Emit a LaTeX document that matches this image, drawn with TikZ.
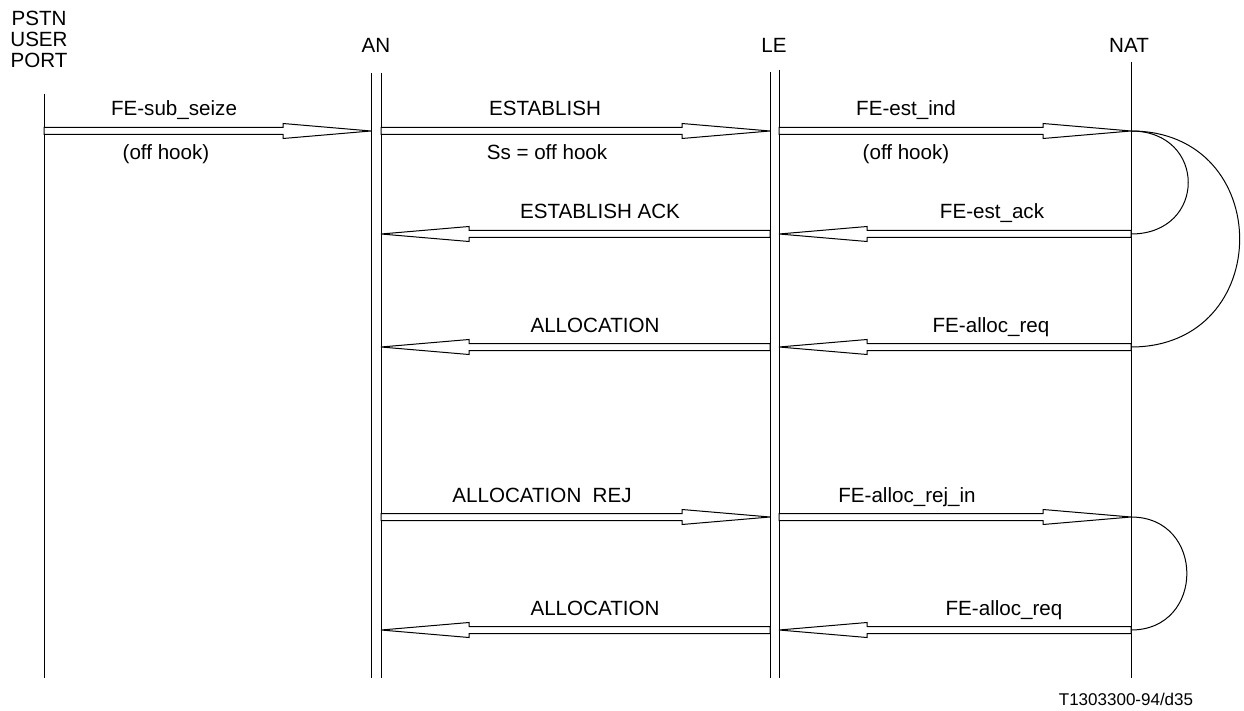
\documentclass[tikz,border=0pt]{standalone}
\usepackage{fontspec}
\setmainfont{Liberation Sans}
\usetikzlibrary{calc}

\begin{document}
\begin{tikzpicture}[
    x=1pt, y=-1pt,
    every node/.style={font=\fontsize{20.6}{21}\selectfont, inner sep=0pt},
    lifeline/.style={line width=1pt},
    msg/.style={draw, fill=white, line width=1pt, to path={
        let \p1=(\tikztostart), \p2=(\tikztotarget), \n1={sign(\x2-\x1)} in
        (\x1,{\y1+3.5pt}) -- ({\x2-\n1*88pt},{\y1+3.5pt}) -- ({\x2-\n1*88pt},{\y1+7.5pt})
        -- (\x2,\y2) -- ({\x2-\n1*88pt},{\y1-7.5pt}) -- ({\x2-\n1*88pt},{\y1-3.5pt})
        -- (\x1,{\y1-3.5pt}) -- cycle}},
    lbl/.style={anchor=base},
    turn/.style={line width=1pt, out=0, in=0, looseness=#1},
  ]
  \useasboundingbox (0,0) rectangle (1244,711);

  % ---- Headers ----
  \node[align=center, anchor=north] (pu) at (39,11) {PSTN\\USER\\PORT};
  \node[lbl] (an) at (376,53) {AN};
  \node[lbl] (le) at (774,53) {LE};
  \node[lbl] (nat) at (1129,53) {NAT};

  % ---- Lifelines ----
  \coordinate (puTop) at (44,94);    \coordinate (puBot) at (44,678);
  \coordinate (anLTop) at (371,73);  \coordinate (anLBot) at (371,678);
  \coordinate (anRTop) at (381,73);  \coordinate (anRBot) at (381,678);
  \coordinate (leLTop) at (770,72);  \coordinate (leLBot) at (770,678);
  \coordinate (leRTop) at (779,70);  \coordinate (leRBot) at (779,678);
  \coordinate (natTop) at (1131,62); \coordinate (natBot) at (1131,678);

  \draw[lifeline] (puTop) -- (puBot);
  \draw[lifeline] (anLTop) -- (anLBot);
  \draw[lifeline] (anRTop) -- (anRBot);
  \draw[lifeline] (leLTop) -- (leLBot);
  \draw[lifeline] (leRTop) -- (leRBot);
  \draw[lifeline] (natTop) -- (natBot);

  % message rows
  \foreach \r/\y in {1/131, 2/234, 3/347, 4/517, 5/630}{
    \coordinate (pu\r) at (44,\y);
    \coordinate (anL\r) at (371,\y);
    \coordinate (anR\r) at (381,\y);
    \coordinate (leL\r) at (770,\y);
    \coordinate (leR\r) at (779,\y);
    \coordinate (nat\r) at (1131,\y);
  }

  % ---- Establish ----
  \draw[msg] (pu1) to (anL1);
  \draw[msg] (anR1) to (leL1);
  \draw[msg] (leR1) to (nat1);
  \node[lbl] (m1a) at (174,116) {FE-sub\_seize};
  \node[lbl] (m1b) at (166,160) {(off hook)};
  \node[lbl] (m2a) at (545,116) {ESTABLISH};
  \node[lbl] (m2b) at (547,160) {Ss = off hook};
  \node[lbl] (m3a) at (906,116) {FE-est\_ind};
  \node[lbl] (m3b) at (906,160) {(off hook)};

  % ---- Establish ack ----
  \draw[msg] (leL2) to (anR2);
  \draw[msg] (nat2) to (leR2);
  \node[lbl] (m4) at (600,219) {ESTABLISH ACK};
  \node[lbl] (m5) at (992,219) {FE-est\_ack};

  % ---- Allocation ----
  \draw[msg] (leL3) to (anR3);
  \draw[msg] (nat3) to (leR3);
  \node[lbl] (m6) at (595,332) {ALLOCATION};
  \node[lbl] (m7) at (991,332) {FE-alloc\_req};

  % ---- Allocation rejected ----
  \draw[msg] (anR4) to (leL4);
  \draw[msg] (leR4) to (nat4);
  \node[lbl] (m8) at (542,502) {ALLOCATION\hspace{0.55em}REJ};
  \node[lbl] (m9) at (907,502) {FE-alloc\_rej\_in};

  % ---- Allocation again ----
  \draw[msg] (leL5) to (anR5);
  \draw[msg] (nat5) to (leR5);
  \node[lbl] (m10) at (595,615) {ALLOCATION};
  \node[lbl] (m11) at (1004,615) {FE-alloc\_req};

  % ---- NAT internal turns ----
  \draw[turn=1.9] (nat1) to (nat2);
  \draw[turn=1.72] (nat1) to (nat3);
  \draw[turn=1.69] (nat4) to (nat5);

  \node[lbl, font=\fontsize{17}{18}\selectfont] (ref) at (1126,705) {T1303300-94/d35};

\end{tikzpicture}
\end{document}
